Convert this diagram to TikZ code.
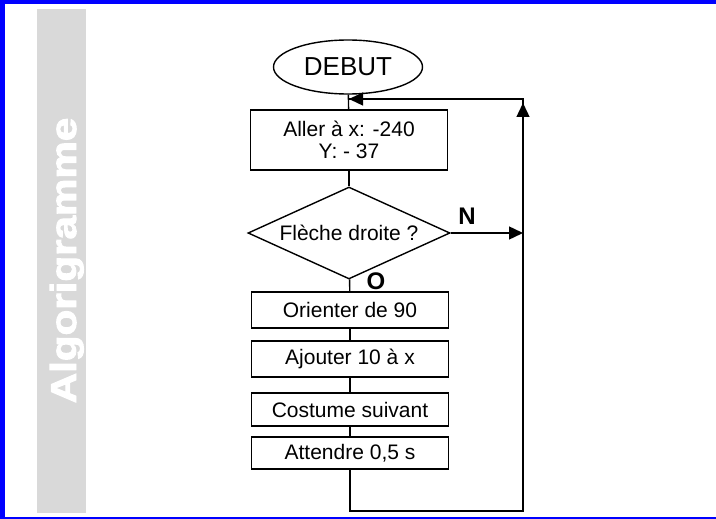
\documentclass[tikz,border=0pt]{standalone}
\usepackage{fontspec}
\setmainfont{Liberation Sans}
\newfontfamily\titrefont[FakeBold=2.5]{Liberation Sans Bold}
\usetikzlibrary{calc,shapes,arrows.meta}

\begin{document}
\begin{tikzpicture}[x=1pt,y=-1pt,
        cadre/.style={draw=black, line width=1.4pt, minimum width=197pt, inner sep=0pt,
                      align=center, font=\fontsize{21}{22}\selectfont},
        test/.style={draw=black, line width=1.4pt, diamond, aspect=2.2, inner sep=0pt,
                     minimum width=202pt, minimum height=92pt, font=\fontsize{21}{22}\selectfont},
        lien/.style={line width=1.4pt},
        fleche/.style={line width=1.4pt, -{Triangle[length=14pt,width=13pt]}},
        lettre/.style={font=\bfseries\fontsize{24}{24}\selectfont}]
        \useasboundingbox (0,0) rectangle (716,519);
        \fill[blue ](0,0)rectangle(716,519);
        \fill[white](5,4)rectangle(716,517);
        \fill[black!15](37,9)rectangle(86,513);
        \node[rotate=90, anchor=base, inner sep=0pt, text=white, font=\titrefont\fontsize{36}{36}\selectfont]
          (titre) at (76,260.5) {\scalebox{1.17}[1]{Algorigramme}};

        \node[ellipse, draw, line width=1.4pt, minimum width=149pt, minimum height=54pt, inner sep=0pt,
              font=\fontsize{26}{26}\selectfont] (debut) at (348,67) {DEBUT};
        \node[cadre, minimum height=60pt] (aller)    at (349,140)   {Aller à x: -240\\Y: - 37};
        \node[test                     ] (droite)   at (349,233)   {Flèche droite ?};
        \node[cadre, minimum height=36pt] (orienter) at (350,310)   {Orienter de 90};
        \node[cadre, minimum height=36pt] (ajouter)  at (350,359)   {Ajouter 10 à x};
        \node[cadre, minimum height=33pt] (costume)  at (350,409.5) {Costume suivant};
        \node[cadre, minimum height=32pt] (attendre) at (350,453)   {Attendre 0,5 s};

        \node[lettre] (non) at (467,216) {N};
        \node[lettre] (oui) at (376,281) {O};

        \coordinate (cote)   at (523,233);
        \coordinate (bas)    at (523,511);
        \coordinate (haut)   at (523,99);
        \coordinate (entree) at (349,99);

        \draw[lien] (debut)    -- (aller);
        \draw[lien] (aller)    -- (droite);
        \draw[lien] (droite)   -- (orienter);
        \draw[lien] (orienter) -- (ajouter);
        \draw[lien] (ajouter)  -- (costume);
        \draw[lien] (costume)  -- (attendre);
        \draw[fleche] (droite.east) -- (cote);
        \draw[lien] (attendre.south) |- (bas) -- (haut) -- (entree);
        \draw[fleche] (bas) -- ($(haut)+(0,4)$);
        \draw[fleche] (haut) -- (entree);
      \end{tikzpicture}
\end{document}
